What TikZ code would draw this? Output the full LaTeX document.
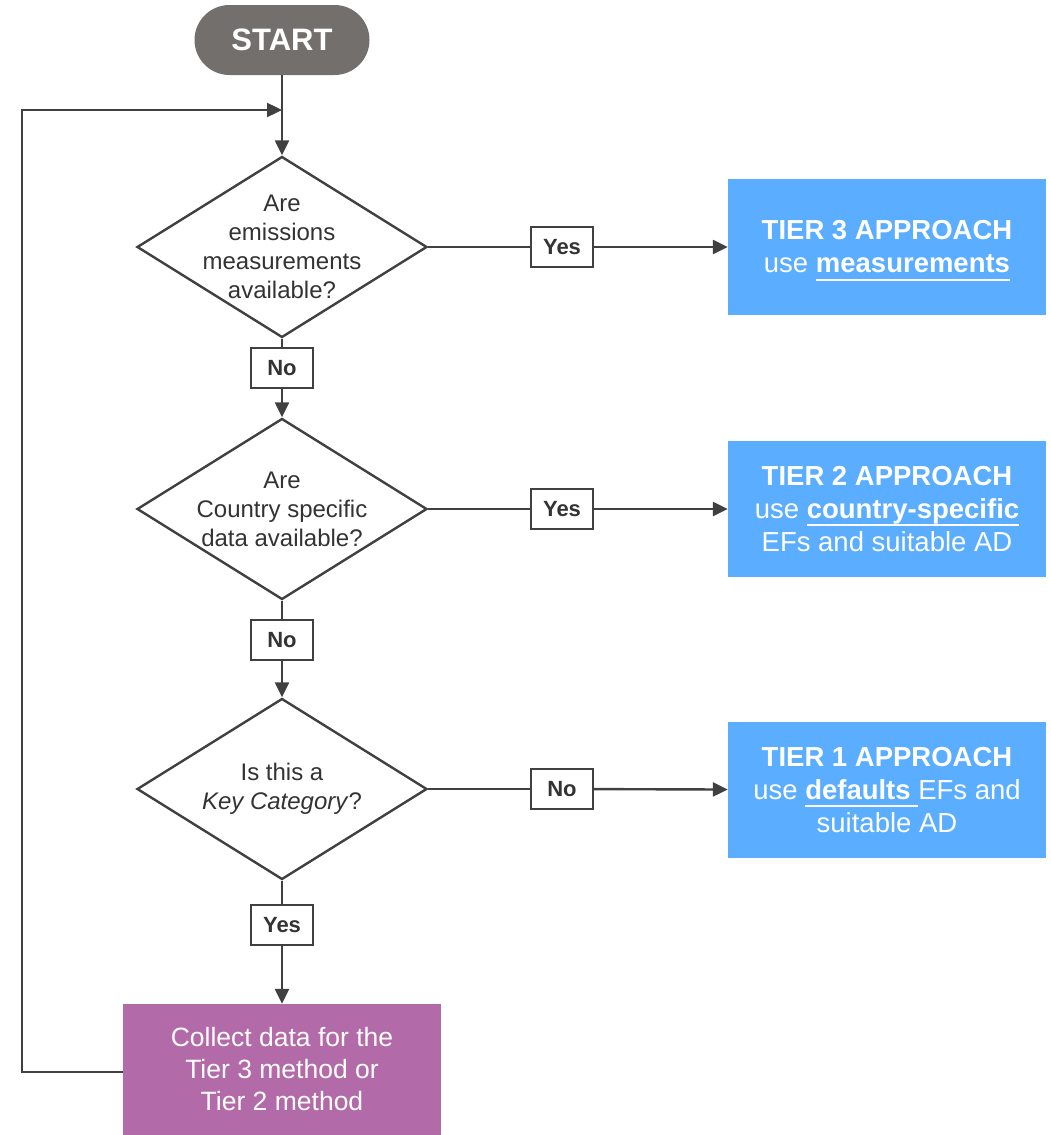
\documentclass[tikz,border=0pt]{standalone}
\usepackage{fontspec}
\setmainfont{Liberation Sans}
\usetikzlibrary{arrows.meta,shapes.geometric,positioning}
\definecolor{startgray}{HTML}{736F6D}
\definecolor{tierblue}{HTML}{5AADFF}
\definecolor{collectpurple}{HTML}{B36AA8}
\definecolor{linegray}{HTML}{404040}
\definecolor{textgray}{HTML}{333333}
\newcommand{\tierul}[1]{\setbox0\hbox{#1}\rlap{\smash{\rule[-8pt]{\wd0}{2.4pt}}}\box0}

\begin{document}
\begin{tikzpicture}[x=1pt, y=-1pt, >={Triangle[length=15pt,width=14pt]},
    line/.style={draw=linegray, line width=2.4pt},
    decision/.style={diamond, draw=linegray, line width=2.4pt, minimum width=290pt, minimum height=181pt, inner sep=0pt},
    question/.style={align=center, text=textgray, font=\fontsize{24}{29}\selectfont},
    answer/.style={rectangle, draw=linegray, line width=2pt, fill=white, minimum width=62pt, minimum height=40pt, text=textgray, font=\fontsize{22}{24}\selectfont\bfseries},
    tierbox/.style={rectangle, fill=tierblue, minimum width=318pt, minimum height=136pt, text=white, align=center, font=\fontsize{27.5}{33}\selectfont}]
  \useasboundingbox (0,0) rectangle (1051,1135);

  % Start
  \node[rectangle, rounded corners=35pt, fill=startgray, minimum width=175pt, minimum height=70pt, text=white, font=\fontsize{31}{34}\selectfont\bfseries] (start) at (282,40) {START};
  \coordinate (join) at (282,110);

  % Decisions
  \node[decision] (qmeas) at (282,247) {};
  \node[question] (qmeastext) at (qmeas) {Are\\emissions\\measurements\\available?};
  \node[decision] (qcountry) at (282,509) {};
  \node[question] (qcountrytext) at (qcountry) {Are\\Country specific\\data available?};
  \node[decision] (qkey) at (282,789) {};
  \node[question] (qkeytext) at (qkey) {Is this a\\\textit{Key Category}?};

  % Answers
  \node[answer] (nomeas) at (282,368) {No};
  \node[answer] (nocountry) at (282,640) {No};
  \node[answer] (yeskey) at (282,925) {Yes};
  \node[answer] (yesmeas) at (562,247) {Yes};
  \node[answer] (yescountry) at (562,509) {Yes};
  \node[answer] (nokey) at (562,789) {No};

  % Tiers
  \node[tierbox] (tier3) at (887,247) {\textbf{TIER 3 APPROACH}\\use \tierul{\textbf{measurements}}};
  \node[tierbox] (tier2) at (887,509) {\textbf{TIER 2 APPROACH}\\use \tierul{\textbf{country-specific}}\\EFs and suitable AD};
  \node[tierbox] (tier1) at (887,790) {\textbf{TIER 1 APPROACH}\\use \tierul{\textbf{defaults }}EFs and\\suitable AD};

  % Collect data
  \node[rectangle, fill=collectpurple, minimum width=318pt, minimum height=131pt, text=white, align=center, font=\fontsize{26.5}{32}\selectfont] (collect) at (282,1069.5) {Collect data for the\\Tier 3 method or\\Tier 2 method};

  % Main column
  \draw[line, ->] (start) -- (qmeas);
  \draw[line] (qmeas) -- (nomeas);
  \draw[line, ->] (nomeas) -- (qcountry);
  \draw[line] (qcountry) -- (nocountry);
  \draw[line, ->] (nocountry) -- (qkey);
  \draw[line] (qkey) -- (yeskey);
  \draw[line, ->] (yeskey) -- (collect);

  % Branches to tiers
  \draw[line] (qmeas) -- (yesmeas);
  \draw[line, ->] (yesmeas) -- (tier3);
  \draw[line] (qcountry) -- (yescountry);
  \draw[line, ->] (yescountry) -- (tier2);
  \draw[line] (qkey) -- (nokey);
  \draw[line, ->] (nokey) -- (tier1);

  % Loop back
  \draw[line, ->] ([yshift=-2.5pt]collect.west) -- ++(-101,0) |- (join);
\end{tikzpicture}
\end{document}
